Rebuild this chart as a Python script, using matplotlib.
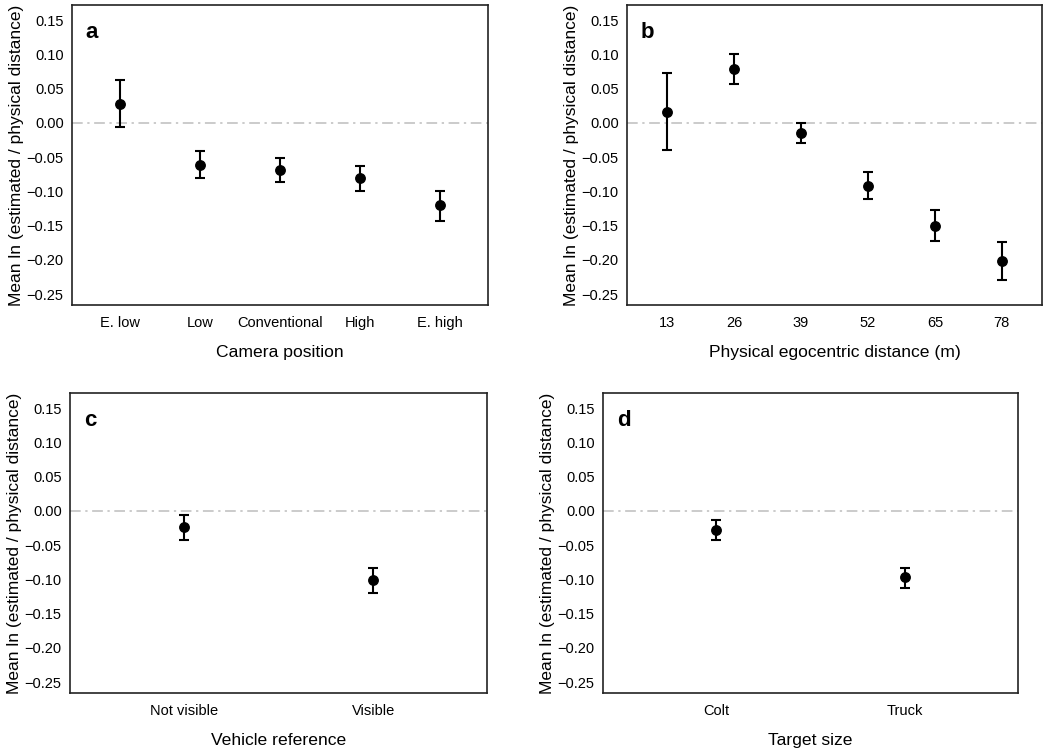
import matplotlib
matplotlib.use("Agg")
import matplotlib.pyplot as plt
import numpy as np

plt.rcParams["font.family"] = ["Liberation Sans", "DejaVu Sans"]

# panel a: camera position
cam_labels = ["E. low", "Low", "Conventional", "High", "E. high"]
cam_mean = [0.027, -0.061, -0.069, -0.081, -0.120]
cam_lo = [-0.006, -0.081, -0.086, -0.099, -0.143]
cam_hi = [0.062, -0.041, -0.052, -0.063, -0.099]

# panel b: physical egocentric distance
dist_labels = ["13", "26", "39", "52", "65", "78"]
dist_mean = [0.016, 0.078, -0.015, -0.092, -0.150, -0.202]
dist_lo = [-0.040, 0.056, -0.030, -0.111, -0.172, -0.229]
dist_hi = [0.072, 0.101, -0.001, -0.072, -0.127, -0.174]

# panel c: vehicle reference
veh_labels = ["Not visible", "Visible"]
veh_mean = [-0.024, -0.101]
veh_lo = [-0.042, -0.120]
veh_hi = [-0.006, -0.083]

# panel d: target size
size_labels = ["Colt", "Truck"]
size_mean = [-0.028, -0.097]
size_lo = [-0.043, -0.112]
size_hi = [-0.014, -0.083]

yticks = [0.15, 0.10, 0.05, 0.00, -0.05, -0.10, -0.15, -0.20, -0.25]
YLAB = "Mean ln (estimated / physical distance)"

W, H = 1044, 752
fig = plt.figure(figsize=(W / 100, H / 100), dpi=100)


def px_axes(left, right, top, bottom):
    return fig.add_axes([left / W, (H - bottom) / H, (right - left) / W, (bottom - top) / H])


def panel(ax, labels, mean, lo, hi, letter, xlabel):
    x = np.arange(1, len(labels) + 1)
    mean = np.asarray(mean)
    err = np.vstack([mean - np.asarray(lo), np.asarray(hi) - mean])
    ax.axhline(0, color="#bdbdbd", lw=1.1, ls=(0, (7, 3, 1.5, 3)), zorder=1)
    ax.errorbar(x, mean, yerr=err, fmt="o", color="black", ms=6.8,
                elinewidth=1.5, capsize=3.3, capthick=1.5, zorder=3)
    ax.set_xlim(0.4, len(labels) + 0.6)
    ax.set_ylim(-0.266, 0.172)
    ax.set_xticks(x)
    ax.set_xticklabels(labels)
    ax.set_yticks(yticks)
    ax.set_yticklabels([f"{t:.2f}".replace("-", "\u2212") for t in yticks])
    ax.tick_params(length=0, labelsize=10.5, pad=6, colors="black")
    ax.tick_params(axis="x", pad=8)
    ax.set_xlabel(xlabel, fontsize=12.6, labelpad=11)
    ax.set_ylabel(YLAB, fontsize=12.5, labelpad=1.5)
    for s in ax.spines.values():
        s.set_linewidth(1.2)
        s.set_color("#222222")
    ax.text(0.033, 0.945, letter, transform=ax.transAxes, fontsize=16,
            fontweight="bold", va="top", ha="left")


axA = px_axes(72, 488, 5, 305)
panel(axA, cam_labels, cam_mean, cam_lo, cam_hi, "a", "Camera position")

axB = px_axes(627, 1042, 5, 305)
panel(axB, dist_labels, dist_mean, dist_lo, dist_hi, "b", "Physical egocentric distance (m)")

axC = px_axes(70, 487, 393, 693)
panel(axC, veh_labels, veh_mean, veh_lo, veh_hi, "c", "Vehicle reference")

axD = px_axes(603, 1018, 393, 693)
panel(axD, size_labels, size_mean, size_lo, size_hi, "d", "Target size")

fig.savefig("out.png", dpi=100)
